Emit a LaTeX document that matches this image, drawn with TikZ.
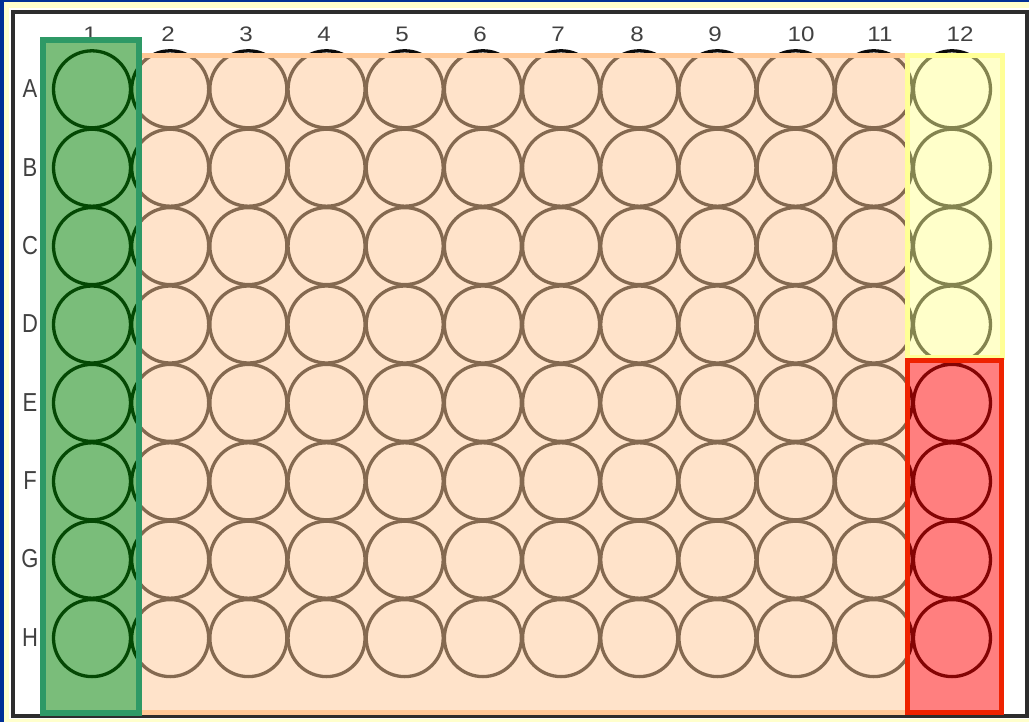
\documentclass[tikz,border=0pt]{standalone}
\usepackage{fontspec}
\setmainfont{Liberation Sans}
\definecolor{bgblue}{RGB}{0,48,150}
\definecolor{paleyel}{RGB}{255,255,204}
\definecolor{platebd}{RGB}{45,45,45}
\definecolor{labgray}{RGB}{65,65,65}
\definecolor{wellline}{RGB}{10,10,10}
\definecolor{peachc}{RGB}{255,200,150}
\definecolor{greenc}{RGB}{0,130,0}
\definecolor{greenbd}{RGB}{46,153,102}
\definecolor{yelc}{RGB}{255,255,150}
\definecolor{yelbd}{RGB}{255,255,150}
\definecolor{redc}{RGB}{255,0,0}
\definecolor{redbd}{RGB}{238,34,0}
\tikzset{
  collab/.style={text=labgray, font=\fontsize{21}{21}\selectfont, inner sep=0pt, xscale=1.15},
  rowlab/.style={text=labgray, font=\fontsize{20}{20}\selectfont, inner sep=0pt, yscale=1.3, xscale=1.1},
  well/.style={circle, draw=wellline, line width=3.3pt, minimum size=77pt, inner sep=0pt},
  overlay/.style={line width=5pt, fill opacity=0.5}
}
\begin{document}
\begin{tikzpicture}[x=1pt,y=-1pt]
\useasboundingbox (0,0) rectangle (1029,722);
\fill[bgblue] (0,0) rectangle (1029,722);
\fill[paleyel] (4,2.5) rectangle (1029,722);
\fill[white] (9,8) rectangle (1029,719);
\draw[platebd, line width=4pt] (12.5,12.5) rectangle (1026.5,716);
% column labels
\foreach \n/\x in {1/90,2/168,3/246,4/324,5/402,6/480,7/558,8/637,9/715,10/801,11/880,12/960}
  \node[collab] (c\n) at (\x,34) {\n};
% row labels
\foreach \l [count=\i from 0] in {A,B,C,D,E,F,G,H}
  \node[rowlab] (r\l) at (30,{89+78.3*\i}) {\l};
% wells
\foreach \r [count=\i from 0] in {A,B,C,D,E,F,G,H}
  \foreach \c in {1,...,12}
    \node[well] (w\r\c) at ({92+78.18*(\c-1)},{89.3+78.4*\i}) {};
% overlays
\draw[overlay, draw=peachc, fill=peachc] (139,55.5) rectangle (907,712.5);
\draw[overlay, draw=yelbd, fill=yelc] (907,56) rectangle (1002,357);
\draw[overlay, draw=redbd, fill=redc] (907.5,360.5) rectangle (1001.5,712.5);
\draw[overlay, line width=6pt, draw=greenbd, fill=greenc, fill opacity=0.52] (42.5,40.3) rectangle (138.5,712.5);
\end{tikzpicture}
\end{document}
